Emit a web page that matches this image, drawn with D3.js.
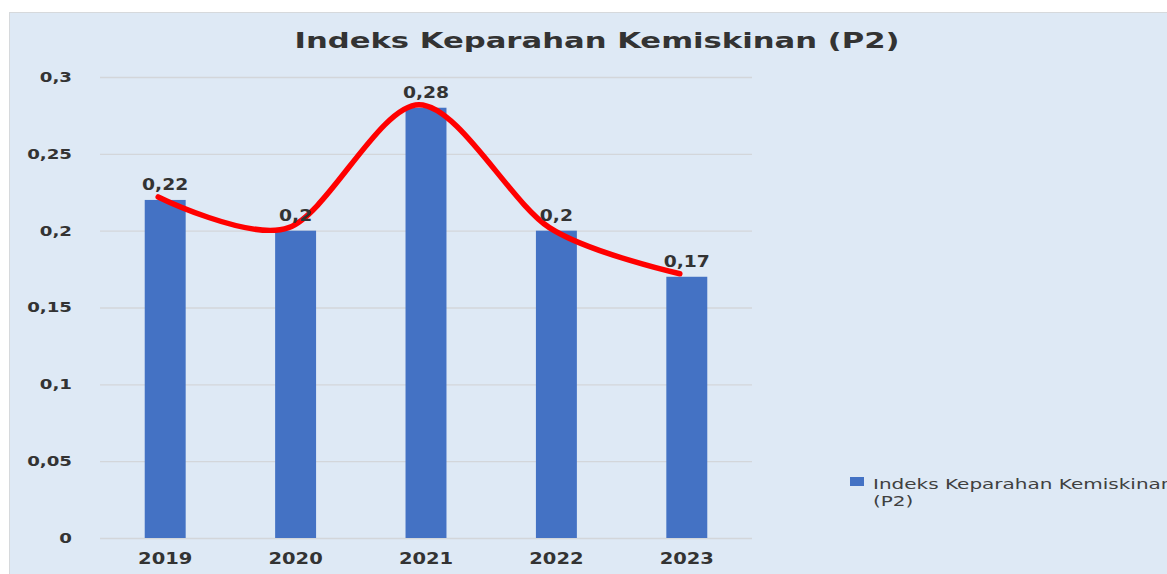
<!DOCTYPE html>
<html>
<head>
<meta charset="utf-8">
<script src="https://cdn.jsdelivr.net/npm/d3@7"></script>
<style>
  body { margin: 0; background: #fff; }
  text { font-family: "DejaVu Sans", Verdana, sans-serif; }
</style>
</head>
<body>
<div class="chart"></div>
<script>
const years = ["2019", "2020", "2021", "2022", "2023"];
const values = [0.22, 0.2, 0.28, 0.2, 0.17];
const labels = ["0,22", "0,2", "0,28", "0,2", "0,17"];
const yTicks = [0, 0.05, 0.1, 0.15, 0.2, 0.25, 0.3];
const seriesName = ["Indeks Keparahan Kemiskinan", "(P2)"];

const W = 1167, H = 574;
const margin = {top: 77, right: 415, bottom: 36, left: 100};
const w = W - margin.left - margin.right;
const h = H - margin.top - margin.bottom;

// the original text looks horizontally stretched
const sx = 1.3;

const svg = d3.select(".chart").append("svg")
    .attr("width", W)
    .attr("height", H);

// panel
svg.append("rect")
    .attr("x", 9.5).attr("y", 12.5)
    .attr("width", W).attr("height", H)
    .attr("fill", "#dee9f5")
    .attr("stroke", "#d6d9dc");

svg.append("text")
    .attr("transform", "translate(597,48) scale(1.46,1)")
    .attr("text-anchor", "middle")
    .attr("font-size", 21)
    .attr("font-weight", "bold")
    .attr("fill", "#333")
    .text("Indeks Keparahan Kemiskinan (P2)");

const g = svg.append("g")
    .attr("transform", `translate(${margin.left},${margin.top})`);

const x = d3.scaleBand().domain(years).range([0, w])
    .paddingInner(0.686).paddingOuter(0.343);
const y = d3.scaleLinear().domain([0, 0.3]).range([h, 0]);

const fmt = d => String(d).replace(".", ",");

g.append("g")
    .call(d3.axisLeft(y).tickValues(yTicks).tickSize(-w).tickFormat(fmt))
    .call(a => a.select(".domain").remove())
    .call(a => a.selectAll(".tick line").attr("stroke", "#d3d6da").attr("stroke-width", 1.3))
    .call(a => a.selectAll(".tick text")
        .attr("x", -28 / sx)
        .attr("transform", `scale(${sx},1)`)
        .attr("font-size", 14)
        .attr("font-weight", "bold")
        .attr("fill", "#333"));

g.append("g")
    .attr("transform", `translate(0,${h})`)
    .call(d3.axisBottom(x).tickSize(0))
    .call(a => a.select(".domain").remove())
    .call(a => a.selectAll(".tick text")
        .attr("dy", "1.55em")
        .attr("transform", `scale(${sx},1)`)
        .attr("font-size", 15)
        .attr("font-weight", "bold")
        .attr("fill", "#333"));

g.selectAll(".bar")
    .data(values)
    .join("rect")
    .attr("class", "bar")
    .attr("x", (d, i) => x(years[i]))
    .attr("y", d => y(d))
    .attr("width", x.bandwidth())
    .attr("height", d => h - y(d))
    .attr("fill", "#4472c4");

const line = d3.line()
    .curve(d3.curveCardinal.tension(0.1))
    .x((d, i) => x(years[i]) + x.bandwidth() / 2 - 7)
    .y(d => y(d) - 3);

g.append("path")
    .datum(values)
    .attr("d", line)
    .attr("fill", "none")
    .attr("stroke", "#ff0000")
    .attr("stroke-width", 5.5)
    .attr("stroke-linecap", "round");

g.selectAll(".lbl")
    .data(values)
    .join("text")
    .attr("class", "lbl")
    .attr("transform", (d, i) =>
        `translate(${x(years[i]) + x.bandwidth() / 2},${y(d) - 10}) scale(1.25,1)`)
    .attr("text-anchor", "middle")
    .attr("font-size", 15)
    .attr("font-weight", "bold")
    .attr("fill", "#333")
    .text((d, i) => labels[i]);

// legend
const lg = svg.append("g").attr("transform", "translate(850,477)");
lg.append("rect").attr("width", 14).attr("height", 9).attr("fill", "#4472c4");
lg.selectAll("text")
    .data(seriesName)
    .join("text")
    .attr("transform", (d, i) => `translate(23,${12 + i * 17}) scale(1.43,1)`)
    .attr("font-size", 14)
    .attr("fill", "#404040")
    .text(d => d);
</script>
</body>
</html>
